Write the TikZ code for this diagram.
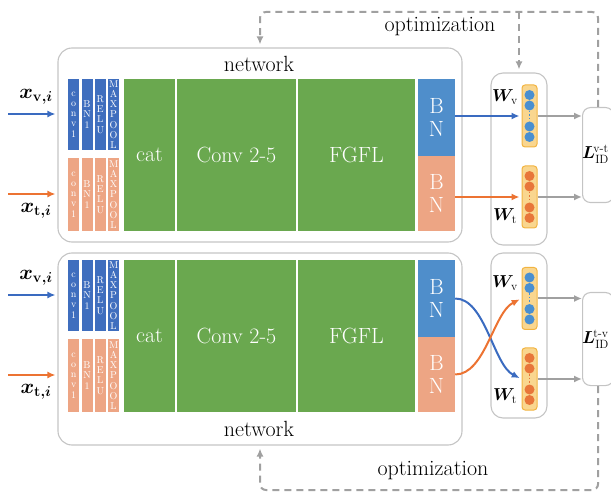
\documentclass[tikz,border=0pt]{standalone}
\usepackage{amsmath}
\usepackage{bm}
\usetikzlibrary{arrows.meta}

\definecolor{convblue}{HTML}{3F6EBE}
\definecolor{bnblue}{HTML}{4F8ECB}
\definecolor{salmon}{HTML}{EDA584}
\definecolor{leafgreen}{HTML}{6AA84F}
\definecolor{lineblue}{HTML}{3A6BC0}
\definecolor{lineorange}{HTML}{EC7332}
\definecolor{dotblue}{HTML}{4A8FD0}
\definecolor{dotorange}{HTML}{E8763A}
\definecolor{colfill}{HTML}{F9D68F}
\definecolor{colline}{HTML}{F2B441}
\definecolor{boxgray}{HTML}{C4C4C4}
\definecolor{optgray}{HTML}{A0A0A0}

\def\bigfont{\fontsize{22}{23}\selectfont}

\begin{document}
\begin{tikzpicture}[x=1pt,y=-1pt,>={Latex[length=8pt,width=7pt]}]
    \tikzstyle{netbox}=[draw=boxgray,line width=1.1pt,rounded corners=14pt,inner sep=0pt]
    \tikzstyle{layer}=[inner sep=0pt,text=white,align=center,font=\fontsize{10}{10.2}\selectfont]
    \tikzstyle{block}=[inner sep=0pt,fill=leafgreen,text=white,minimum height=152pt,font=\bigfont]
    \tikzstyle{bnlayer}=[inner sep=0pt,text=white,minimum width=37pt,align=center,font=\bigfont]
    \tikzstyle{neurons}=[draw=colline,fill=colfill,line width=1pt,rounded corners=3pt,minimum width=15pt,minimum height=62pt,inner sep=0pt]
    \tikzstyle{lossbox}=[draw=boxgray,line width=1.1pt,rounded corners=8pt,minimum width=31pt,inner sep=0pt,anchor=north west]
    \tikzstyle{feed}=[->,line width=2pt,shorten >=2pt]
    \tikzstyle{score}=[->,draw=optgray,line width=2pt]
    \tikzstyle{optim}=[->,draw=optgray,line width=2pt,dash pattern=on 7pt off 5pt,rounded corners=6pt,shorten >=3pt]
    \tikzstyle{mathlabel}=[font=\fontsize{20}{24}\selectfont,inner sep=0pt]
    \tikzstyle{wlabel}=[font=\fontsize{17}{20}\selectfont,inner sep=0pt]
    \tikzstyle{losslabel}=[font=\fontsize{18}{20}\selectfont,inner sep=0pt,anchor=west]

    \useasboundingbox (0,0) rectangle (611,497);

    % Draw the two network boxes
    \node[netbox,minimum width=404pt,minimum height=194pt] (netA) at (260,145) {};
    \node[netbox,minimum width=404pt,minimum height=192pt] (netB) at (260,349) {};
    \node[font=\bigfont] at (259,64) {network};
    \node[font=\bigfont] at (259,429) {network};

    % Draw the layers of each network and its inputs
    \foreach \n/\y in {A/79,B/260} {
        \foreach \lab [count=\i] in {{c\\o\\n\\v\\1},{B\\N\\1},{R\\E\\L\\U},{M\\A\\X\\P\\O\\O\\L}} {
            \node[layer,fill=convblue,minimum width=11pt,minimum height=71pt] (v\n\i) at (60.4+13.3*\i,\y+35.5) {\lab};
            \node[layer,fill=salmon,minimum width=11pt,minimum height=73pt] (t\n\i) at (60.4+13.3*\i,\y+115.5) {\lab};
        }
        \node[block,minimum width=51pt] (cat\n) at (149.5,\y+76) {cat};
        \node[block,minimum width=119pt] (conv\n) at (236.5,\y+76) {Conv 2-5};
        \node[block,minimum width=117pt] (fgfl\n) at (356.5,\y+76) {FGFL};
        \node[bnlayer,fill=bnblue,minimum height=77pt] (bnv\n) at (436.5,\y+38.5) {B\\N};
        \node[bnlayer,fill=salmon,minimum height=75pt] (bnt\n) at (436.5,\y+114.5) {B\\N};

        \coordinate (xv\n) at (8,\y+35);
        \coordinate (xt\n) at (8,\y+115);
        \draw[feed,lineblue] (xv\n) -- (xv\n -| net\n.west);
        \draw[feed,lineorange] (xt\n) -- (xt\n -| net\n.west);
        \node[mathlabel] at (36,\y+18) {$\bm{x_{\mathrm{v},i}}$};
        \node[mathlabel] at (36,\y+132) {$\bm{x_{\mathrm{t},i}}$};
    }

    % Draw the classifier boxes
    \node[netbox,rounded corners=12pt,minimum width=56pt,minimum height=172pt] (Wa) at (519,159) {};
    \node[netbox,rounded corners=12pt,minimum width=56pt,minimum height=165pt] (Wb) at (519,335.5) {};
    \node[wlabel] at (505,97) {$\bm{W}_{\mathrm{v}}$};
    \node[wlabel] at (505,216) {$\bm{W}_{\mathrm{t}}$};
    \node[wlabel] at (505,283) {$\bm{W}_{\mathrm{v}}$};
    \node[wlabel] at (505,396) {$\bm{W}_{\mathrm{t}}$};

    \foreach \c/\y/\col in {nvA/116/dotblue,ntA/197/dotorange,nvB/298.5/dotblue,ntB/379/dotorange} {
        \node[neurons] (\c) at (529.5,\y) {};
        \foreach \d in {-21,-10.5,10.5,21}
            \fill[\col] (529.5,\y+\d) circle (5pt);
        \draw[\col,line width=1.5pt,dotted] (529.5,\y-5) -- (529.5,\y+5);
    }

    % Draw the loss boxes
    \node[lossbox,minimum height=95pt] (La) at (582,107) {};
    \node[lossbox,minimum height=93pt] (Lb) at (582,292) {};
    \node[losslabel] at (582,154) {$\bm{L}^{\!\mathrm{v\text{-}t}}_{\mathrm{ID}}$};
    \node[losslabel] at (582,339) {$\bm{L}^{\!\mathrm{t\text{-}v}}_{\mathrm{ID}}$};

    % Connect the BN layers with the classifiers
    \draw[feed,lineblue] (nvA.west -| bnvA.east) -- (nvA.west);
    \draw[feed,lineorange] (ntA.west -| bntA.east) -- (ntA.west);
    \draw[feed,lineblue] (bnvB.east) .. controls +(30,0) and +(-28,-14) .. (ntB.west);
    \draw[feed,lineorange] (bntB.east) .. controls +(30,0) and +(-28,14) .. (nvB.west);

    % Connect the classifiers with the losses
    \draw[score] (nvA.east) -- (nvA.east -| La.west);
    \draw[score] (ntA.east) -- (ntA.east -| La.west);
    \draw[score] (nvB.east) -- (nvB.east -| Lb.west);
    \draw[score] (ntB.east) -- (ntB.east -| Lb.west);

    % Feed the losses back as optimization
    \coordinate (topline) at (0,12);
    \coordinate (botline) at (0,490);
    \draw[optim] (La.north) -- (La.north |- topline) -| (netA.north);
    \draw[optim] (Wa.north |- topline) -- (Wa.north);
    \draw[optim] (Lb.south) -- (Lb.south |- botline) -| (netB.south);
    \node[font=\bigfont] at (440,27) {optimization};
    \node[font=\bigfont] at (433,471) {optimization};
\end{tikzpicture}
\end{document}
